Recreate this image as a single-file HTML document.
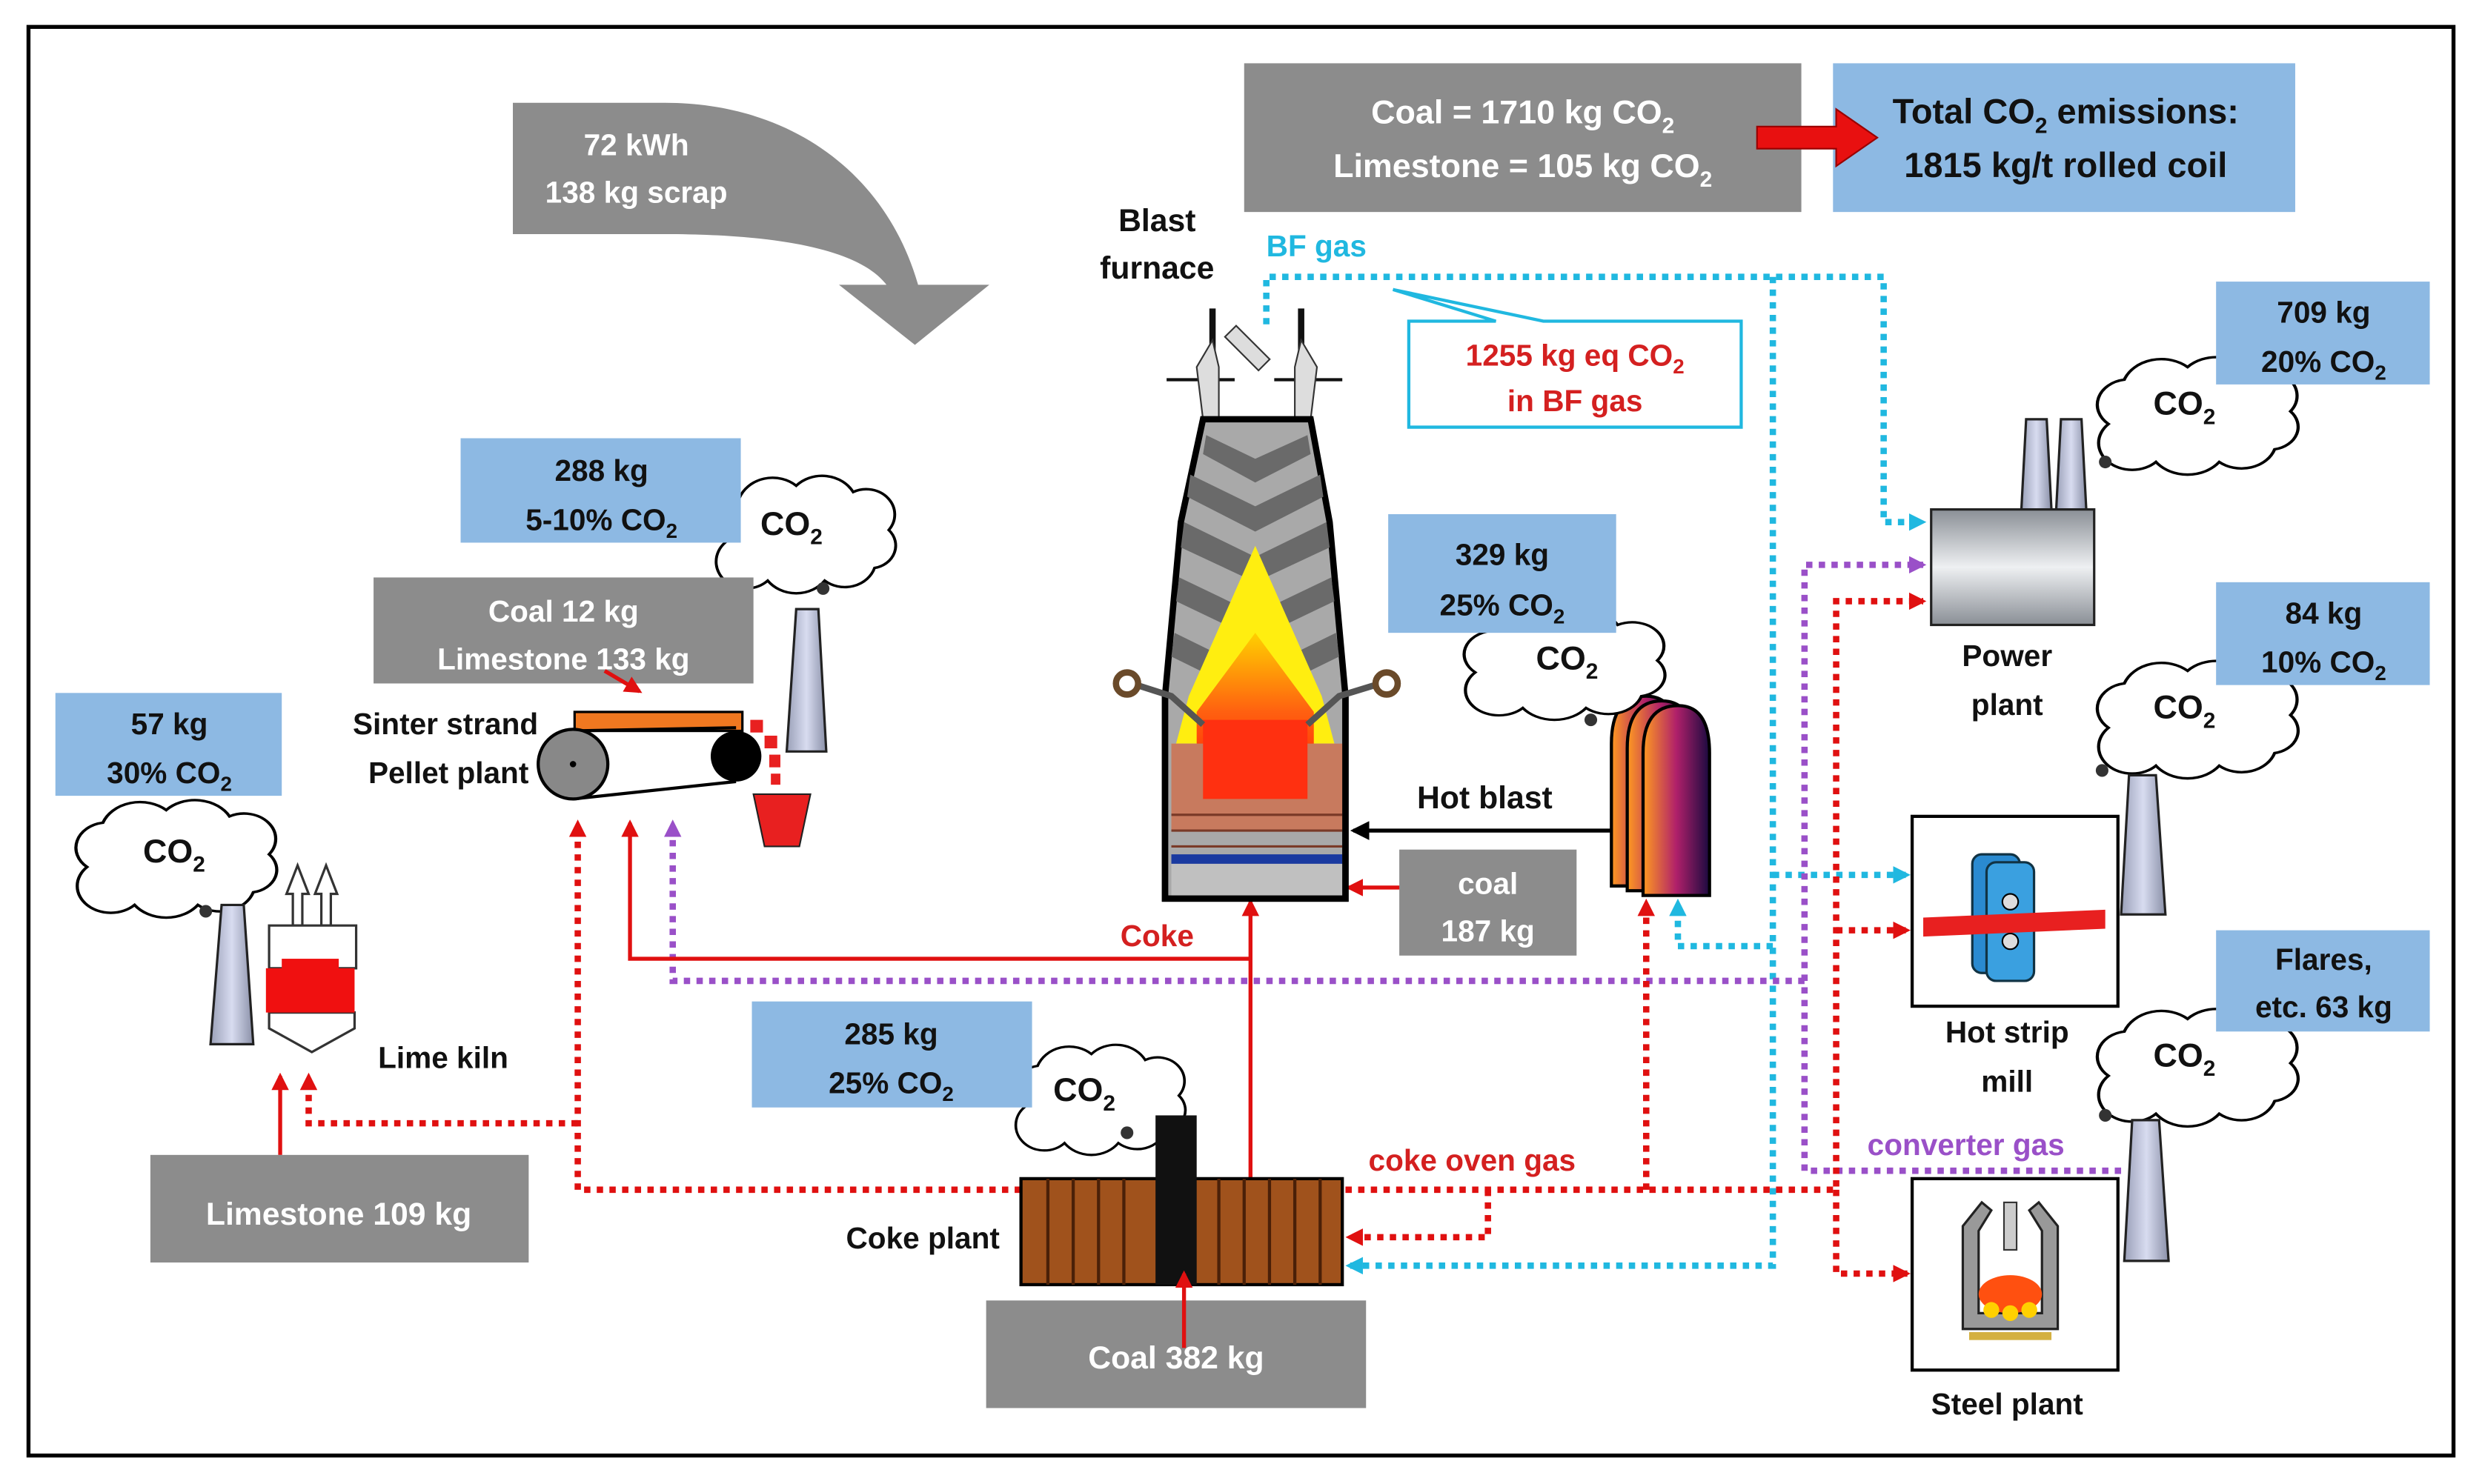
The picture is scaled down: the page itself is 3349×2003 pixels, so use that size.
<!DOCTYPE html>
<html><head><meta charset="utf-8"><style>
html,body{margin:0;padding:0;background:#fff;}
svg{display:block;}
text{font-family:"Liberation Sans",sans-serif;font-weight:bold;}
</style></head><body>
<svg width="3349" height="2003" viewBox="0 0 1568 938" preserveAspectRatio="none" xmlns="http://www.w3.org/2000/svg">
<defs>
<linearGradient id="chim" x1="0" x2="1"><stop offset="0" stop-color="#9aa0b8"/><stop offset="0.5" stop-color="#d8dcf0"/><stop offset="1" stop-color="#8a90a8"/></linearGradient>
<linearGradient id="pp" x1="0" y1="0" x2="0" y2="1"><stop offset="0" stop-color="#8a8f96"/><stop offset="0.5" stop-color="#eef0f2"/><stop offset="1" stop-color="#8a8f96"/></linearGradient>
<linearGradient id="stove" x1="0" x2="1"><stop offset="0" stop-color="#ff9a20"/><stop offset="0.5" stop-color="#b0206a"/><stop offset="1" stop-color="#1a0a40"/></linearGradient>
<linearGradient id="hearth" x1="0" y1="0" x2="0" y2="1"><stop offset="0" stop-color="#ffd000"/><stop offset="0.5" stop-color="#ff6010"/><stop offset="1" stop-color="#ff2000"/></linearGradient>
<path id="cloud" d="M20,60 a20,20 0 0 1 10,-35 a25,25 0 0 1 40,-10 a25,25 0 0 1 40,5 a20,20 0 0 1 25,30 a18,18 0 0 1 -10,30 a22,22 0 0 1 -35,10 a25,25 0 0 1 -40,0 a20,20 0 0 1 -30,-30 z"/>
<marker id="ar" markerWidth="11" markerHeight="11" refX="9" refY="5.5" orient="auto" markerUnits="userSpaceOnUse"><path d="M0,0 L11,5.5 L0,11 z" fill="#e01010"/></marker>
<marker id="ac" markerWidth="11" markerHeight="11" refX="9" refY="5.5" orient="auto" markerUnits="userSpaceOnUse"><path d="M0,0 L11,5.5 L0,11 z" fill="#20b8e0"/></marker>
<marker id="ap" markerWidth="11" markerHeight="11" refX="9" refY="5.5" orient="auto" markerUnits="userSpaceOnUse"><path d="M0,0 L11,5.5 L0,11 z" fill="#9a50c8"/></marker>
<marker id="ak" markerWidth="12" markerHeight="12" refX="10" refY="6" orient="auto" markerUnits="userSpaceOnUse"><path d="M0,0 L12,6 L0,12 z" fill="#000"/></marker>
</defs>
<rect x="18" y="17" width="1532" height="903" fill="#fff" stroke="#000" stroke-width="2.5"/>

<path d="M324,65 L420,65 C500,65 560,110 580,180 L625,180 L578,218 L530,180 L560,180 C545,160 500,148 420,148 L324,148 Z" fill="#8c8c8c"/>
<text x="402" y="98" font-size="19" fill="#fff" text-anchor="middle">72 kWh</text>
<text x="402" y="128" font-size="19" fill="#fff" text-anchor="middle">138 kg scrap</text>

<rect x="786" y="40" width="352" height="94" fill="#8c8c8c"/>
<text x="962" y="78" font-size="21" fill="#fff" text-anchor="middle">Coal = 1710 kg CO<tspan font-size="14" dy="6">2</tspan></text>
<text x="962" y="112" font-size="21" fill="#fff" text-anchor="middle">Limestone = 105 kg CO<tspan font-size="14" dy="6">2</tspan></text>
<rect x="1158" y="40" width="292" height="94" fill="#8db9e3"/>
<text x="1305" y="78" font-size="22" fill="#111" text-anchor="middle">Total CO<tspan font-size="14" dy="6">2</tspan><tspan dy="-6"> emissions:</tspan></text>
<text x="1305" y="112" font-size="22" fill="#111" text-anchor="middle">1815 kg/t rolled coil</text>
<path d="M1110,80 L1160,80 L1160,69 L1186,87 L1160,105 L1160,94 L1110,94 Z" fill="#e81010" stroke="#900" stroke-width="1"/>

<text x="731" y="146" font-size="20" fill="#111" text-anchor="middle">Blast</text>
<text x="731" y="176" font-size="20" fill="#111" text-anchor="middle">furnace</text>
<text x="800" y="162" font-size="19" fill="#20b8e0">BF gas</text>

<path d="M890,203 L890,270 L1100,270 L1100,203 L975,203 L880,183 L945,203 Z" fill="#fff" stroke="#20b8e0" stroke-width="2"/>
<text x="995" y="231" font-size="19" fill="#d42020" text-anchor="middle">1255 kg eq CO<tspan font-size="13" dy="5">2</tspan></text>
<text x="995" y="260" font-size="19" fill="#d42020" text-anchor="middle">in BF gas</text>

<g fill="none" stroke="#20b8e0" stroke-width="4" stroke-dasharray="4 4">
<path d="M800,205 L800,175 L1190,175 L1190,330 L1215,330" marker-end="url(#ac)"/>
<path d="M1120,175 L1120,800 L852,800" marker-end="url(#ac)"/>
<path d="M1120,553 L1205,553" marker-end="url(#ac)"/>
<path d="M1120,598 L1060,598 L1060,570" marker-end="url(#ac)"/>
</g>
<g fill="none" stroke="#9a50c8" stroke-width="4" stroke-dasharray="4 4">
<path d="M1340,740 L1140,740 L1140,357 L1215,357" marker-end="url(#ap)"/>
<path d="M1140,620 L425,620 L425,520" marker-end="url(#ap)"/>
</g>
<g fill="none" stroke="#e01010" stroke-width="4" stroke-dasharray="4 4">
<path d="M850,752 L1160,752 L1160,380 L1215,380" marker-end="url(#ar)"/>
<path d="M1160,588 L1205,588" marker-end="url(#ar)"/>
<path d="M1160,752 L1160,805 L1205,805" marker-end="url(#ar)"/>
<path d="M1040,752 L1040,570" marker-end="url(#ar)"/>
<path d="M940,752 L940,782 L852,782" marker-end="url(#ar)"/>
<path d="M645,752 L365,752 L365,520" marker-end="url(#ar)"/>
<path d="M365,710 L195,710 L195,680" marker-end="url(#ar)"/>
</g>
<g fill="none" stroke="#e01010" stroke-width="2.5">
<path d="M790,745 L790,570" marker-end="url(#ar)"/>
<path d="M790,606 L398,606 L398,520" marker-end="url(#ar)"/>
<path d="M905,561 L852,561" marker-end="url(#ar)"/>
<path d="M177,730 L177,680" marker-end="url(#ar)"/>
</g>
<text x="731" y="598" font-size="19" fill="#d42020" text-anchor="middle">Coke</text>
<text x="930" y="740" font-size="19" fill="#d42020" text-anchor="middle">coke oven gas</text>
<text x="1242" y="730" font-size="19" fill="#9a50c8" text-anchor="middle">converter gas</text>

<g>
<line x1="766" y1="195" x2="766" y2="240" stroke="#111" stroke-width="4"/>
<line x1="822" y1="195" x2="822" y2="240" stroke="#111" stroke-width="4"/>
<line x1="737" y1="240" x2="780" y2="240" stroke="#111" stroke-width="2"/>
<line x1="805" y1="240" x2="848" y2="240" stroke="#111" stroke-width="2"/>
<path d="M766,215 L756,232 L760,265 L770,265 L770,232 Z" fill="#ddd" stroke="#333"/>
<path d="M822,215 L832,232 L828,265 L818,265 L818,232 Z" fill="#ddd" stroke="#333"/>
<rect x="783" y="205" width="10" height="30" fill="#ddd" stroke="#333" transform="rotate(-45 788 220)"/>
<path d="M760,265 L828,265 L840,330 L850,440 L850,568 L736,568 L736,440 L746,330 Z" fill="#a9a9a9" stroke="#000" stroke-width="4"/>
<g fill="#6a6a6a">
<path d="M762,275 L793,290 L826,275 L828,287 L793,305 L760,287Z"/>
<path d="M752,300 L793,320 L834,300 L836,314 L793,336 L750,314Z"/>
<path d="M748,330 L793,352 L838,330 L840,346 L793,368 L746,346Z"/>
<path d="M745,365 L793,388 L841,365 L843,380 L793,404 L743,380Z"/>
<path d="M742,400 L793,425 L844,400 L846,415 L793,441 L740,415Z"/>
</g>
<path d="M793,345 L835,440 L843,470 L743,470 L751,440 Z" fill="#ffee10"/>
<path d="M793,400 L830,450 L830,500 L756,500 L756,450 Z" fill="url(#hearth)"/>
<rect x="740" y="470" width="108" height="55" fill="#c87a5e"/>
<path d="M760,455 L826,455 L826,505 L760,505 Z" fill="#ff3010"/>
<g stroke="#7a3a28" stroke-width="1.5"><line x1="740" y1="515" x2="848" y2="515"/><line x1="740" y1="525" x2="848" y2="525"/><line x1="740" y1="535" x2="848" y2="535"/></g>
<rect x="740" y="540" width="108" height="6" fill="#1a3aa0"/>
<rect x="740" y="546" width="108" height="20" fill="#c0c0c0"/>
<path d="M736,440 L736,568 L850,568 L850,440" fill="none" stroke="#000" stroke-width="4"/>
<path d="M760,458 L740,440 L715,432" fill="none" stroke="#555" stroke-width="4"/>
<path d="M826,458 L846,440 L872,432" fill="none" stroke="#555" stroke-width="4"/>
<circle cx="712" cy="432" r="7" fill="#fff" stroke="#6a4a2a" stroke-width="4"/>
<circle cx="876" cy="432" r="7" fill="#fff" stroke="#6a4a2a" stroke-width="4"/>
</g>

<line x1="1020" y1="525" x2="855" y2="525" stroke="#000" stroke-width="2.5" marker-end="url(#ak)"/>
<text x="938" y="511" font-size="20" fill="#111" text-anchor="middle">Hot blast</text>
<rect x="884" y="537" width="112" height="67" fill="#8c8c8c"/>
<text x="940" y="565" font-size="19" fill="#fff" text-anchor="middle">coal</text>
<text x="940" y="595" font-size="19" fill="#fff" text-anchor="middle">187 kg</text>
<g stroke="#000" stroke-width="2">
<path d="M1018,560 L1018,470 Q1018,440 1040,440 Q1060,440 1060,470 L1060,560 Z" fill="url(#stove)"/>
<path d="M1028,563 L1028,473 Q1028,443 1050,443 Q1070,443 1070,473 L1070,563 Z" fill="url(#stove)"/>
<path d="M1038,566 L1038,476 Q1038,446 1060,446 Q1080,446 1080,476 L1080,566 Z" fill="url(#stove)"/>
</g>

<g fill="#fff" stroke="#000" stroke-width="2">
<use href="#cloud" transform="translate(912,380) scale(1.0,0.75)"/>
<use href="#cloud" transform="translate(1312,220) scale(1.0,0.8)"/>
<use href="#cloud" transform="translate(1312,412) scale(1.0,0.8)"/>
<use href="#cloud" transform="translate(1312,632) scale(1.0,0.8)"/>
<use href="#cloud" transform="translate(630,655) scale(0.85,0.75)"/>
<use href="#cloud" transform="translate(440,295) scale(0.9,0.8)"/>
<use href="#cloud" transform="translate(35,500) scale(1.0,0.8)"/>
</g>
<g fill="#333"><circle cx="1005" cy="455" r="4"/><circle cx="1330" cy="292" r="4"/><circle cx="1328" cy="487" r="4"/><circle cx="1330" cy="705" r="4"/><circle cx="712" cy="716" r="4"/><circle cx="520" cy="372" r="4"/><circle cx="130" cy="576" r="4"/></g>
<g font-size="21" fill="#111" text-anchor="middle">
<text x="990" y="423">CO<tspan font-size="14" dy="6">2</tspan></text>
<text x="1380" y="262">CO<tspan font-size="14" dy="6">2</tspan></text>
<text x="1380" y="454">CO<tspan font-size="14" dy="6">2</tspan></text>
<text x="1380" y="674">CO<tspan font-size="14" dy="6">2</tspan></text>
<text x="685" y="696">CO<tspan font-size="14" dy="6">2</tspan></text>
<text x="500" y="338">CO<tspan font-size="14" dy="6">2</tspan></text>
<text x="110" y="545">CO<tspan font-size="14" dy="6">2</tspan></text>
</g>

<g fill="#8db9e3">
<rect x="877" y="325" width="144" height="75"/>
<rect x="1400" y="178" width="135" height="65"/>
<rect x="1400" y="368" width="135" height="65"/>
<rect x="1400" y="588" width="135" height="64"/>
<rect x="475" y="633" width="177" height="67"/>
<rect x="291" y="277" width="177" height="66"/>
<rect x="35" y="438" width="143" height="65"/>
</g>
<g font-size="19" fill="#111" text-anchor="middle">
<text x="949" y="357">329 kg</text><text x="949" y="389">25% CO<tspan font-size="13" dy="5">2</tspan></text>
<text x="1468" y="204">709 kg</text><text x="1468" y="235">20% CO<tspan font-size="13" dy="5">2</tspan></text>
<text x="1468" y="394">84 kg</text><text x="1468" y="425">10% CO<tspan font-size="13" dy="5">2</tspan></text>
<text x="1468" y="613">Flares,</text><text x="1468" y="643">etc. 63 kg</text>
<text x="563" y="660">285 kg</text><text x="563" y="691">25% CO<tspan font-size="13" dy="5">2</tspan></text>
<text x="380" y="304">288 kg</text><text x="380" y="335">5-10% CO<tspan font-size="13" dy="5">2</tspan></text>
<text x="107" y="464">57 kg</text><text x="107" y="495">30% CO<tspan font-size="13" dy="5">2</tspan></text>
</g>

<path d="M1277,322 L1280,265 L1293,265 L1296,322 Z" fill="url(#chim)" stroke="#222" stroke-width="1.5"/>
<path d="M1299,322 L1302,265 L1315,265 L1318,322 Z" fill="url(#chim)" stroke="#222" stroke-width="1.5"/>
<rect x="1220" y="322" width="103" height="73" fill="url(#pp)" stroke="#222" stroke-width="1.5"/>
<text x="1268" y="421" font-size="19" fill="#111" text-anchor="middle">Power</text>
<text x="1268" y="452" font-size="19" fill="#111" text-anchor="middle">plant</text>
<path d="M1340,578 L1345,490 L1362,490 L1368,578 Z" fill="url(#chim)" stroke="#222" stroke-width="1.5"/>
<path d="M1342,797 L1347,708 L1364,708 L1370,797 Z" fill="url(#chim)" stroke="#222" stroke-width="1.5"/>
<path d="M497,475 L503,385 L517,385 L522,475 Z" fill="url(#chim)" stroke="#222" stroke-width="1.5"/>
<path d="M133,660 L140,572 L154,572 L160,660 Z" fill="url(#chim)" stroke="#222" stroke-width="1.5"/>

<rect x="1208" y="516" width="130" height="120" fill="#fff" stroke="#000" stroke-width="2"/>
<rect x="1246" y="540" width="30" height="75" rx="6" fill="#2a8ad0" stroke="#134" stroke-width="1.5"/>
<rect x="1255" y="545" width="30" height="75" rx="6" fill="#3aa0e0" stroke="#134" stroke-width="1.5"/>
<circle cx="1270" cy="570" r="5" fill="#ddd" stroke="#000"/><circle cx="1270" cy="595" r="5" fill="#ddd" stroke="#000"/>
<path d="M1215,580 L1330,575 L1330,587 L1215,592 Z" fill="#e82020"/>
<text x="1268" y="659" font-size="19" fill="#111" text-anchor="middle">Hot strip</text>
<text x="1268" y="690" font-size="19" fill="#111" text-anchor="middle">mill</text>
<rect x="1208" y="745" width="130" height="121" fill="#fff" stroke="#000" stroke-width="2"/>
<path d="M1240,775 L1252,760 L1258,765 L1250,778 L1250,830 L1290,830 L1290,778 L1282,765 L1288,760 L1300,775 L1300,840 L1240,840 Z" fill="#999" stroke="#222" stroke-width="1.5"/>
<ellipse cx="1270" cy="818" rx="20" ry="12" fill="#ff5010"/>
<circle cx="1258" cy="828" r="5" fill="#ffd000"/><circle cx="1270" cy="830" r="5" fill="#ffd000"/><circle cx="1282" cy="828" r="5" fill="#ffd000"/>
<rect x="1244" y="842" width="52" height="5" fill="#d4b040"/>
<rect x="1266" y="760" width="8" height="30" fill="#ccc" stroke="#333"/>
<text x="1268" y="894" font-size="19" fill="#111" text-anchor="middle">Steel plant</text>

<rect x="645" y="745" width="203" height="67" fill="#a0521c" stroke="#000" stroke-width="2"/>
<g stroke="#4a2008" stroke-width="2">
<line x1="662" y1="745" x2="662" y2="812"/><line x1="678" y1="745" x2="678" y2="812"/><line x1="694" y1="745" x2="694" y2="812"/><line x1="710" y1="745" x2="710" y2="812"/>
<line x1="770" y1="745" x2="770" y2="812"/><line x1="786" y1="745" x2="786" y2="812"/><line x1="802" y1="745" x2="802" y2="812"/><line x1="818" y1="745" x2="818" y2="812"/><line x1="834" y1="745" x2="834" y2="812"/>
</g>
<rect x="730" y="705" width="26" height="107" fill="#111"/>
<text x="583" y="789" font-size="19" fill="#111" text-anchor="middle">Coke plant</text>
<rect x="623" y="822" width="240" height="68" fill="#8c8c8c"/>
<text x="743" y="865" font-size="20" fill="#fff" text-anchor="middle">Coal 382 kg</text>
<path d="M748,852 L748,805" stroke="#e01010" stroke-width="2.5" fill="none" marker-end="url(#ar)"/>

<rect x="236" y="365" width="240" height="67" fill="#8c8c8c"/>
<text x="356" y="393" font-size="19" fill="#fff" text-anchor="middle">Coal 12 kg</text>
<text x="356" y="423" font-size="19" fill="#fff" text-anchor="middle">Limestone 133 kg</text>
<path d="M382,424 L404,437" stroke="#e01010" stroke-width="2.5" marker-end="url(#ar)"/>
<rect x="363" y="450" width="106" height="12" fill="#f07820" stroke="#000" stroke-width="1.5"/>
<line x1="362" y1="462" x2="465" y2="460" stroke="#000" stroke-width="2"/>
<line x1="362" y1="505" x2="465" y2="494" stroke="#000" stroke-width="2"/>
<circle cx="362" cy="483" r="22" fill="#888" stroke="#000" stroke-width="2"/><circle cx="362" cy="483" r="2" fill="#000"/>
<circle cx="465" cy="478" r="16" fill="#000"/>
<g fill="#e82020"><rect x="474" y="455" width="8" height="8"/><rect x="483" y="465" width="8" height="8"/><rect x="486" y="477" width="7" height="8"/><rect x="487" y="489" width="6" height="7"/></g>
<path d="M476,502 L512,502 L505,535 L483,535 Z" fill="#e82020" stroke="#222"/>
<text x="340" y="464" font-size="19" fill="#111" text-anchor="end">Sinter strand</text>
<text x="334" y="495" font-size="19" fill="#111" text-anchor="end">Pellet plant</text>

<g fill="#fff" stroke="#333" stroke-width="1.5">
<path d="M185,585 L185,565 L181,565 L188,547 L195,565 L191,565 L191,585 Z"/>
<path d="M203,585 L203,565 L199,565 L206,547 L213,565 L209,565 L209,585 Z"/>
<path d="M170,612 L170,585 L225,585 L225,612 Z"/>
<path d="M170,640 L170,650 L197,665 L224,650 L224,640 Z"/>
</g>
<rect x="168" y="612" width="56" height="28" fill="#f01010"/>
<rect x="178" y="606" width="36" height="8" fill="#f01010"/>
<text x="280" y="675" font-size="19" fill="#111" text-anchor="middle">Lime kiln</text>
<rect x="95" y="730" width="239" height="68" fill="#8c8c8c"/>
<text x="214" y="774" font-size="20" fill="#fff" text-anchor="middle">Limestone 109 kg</text>
</svg>
</body></html>
